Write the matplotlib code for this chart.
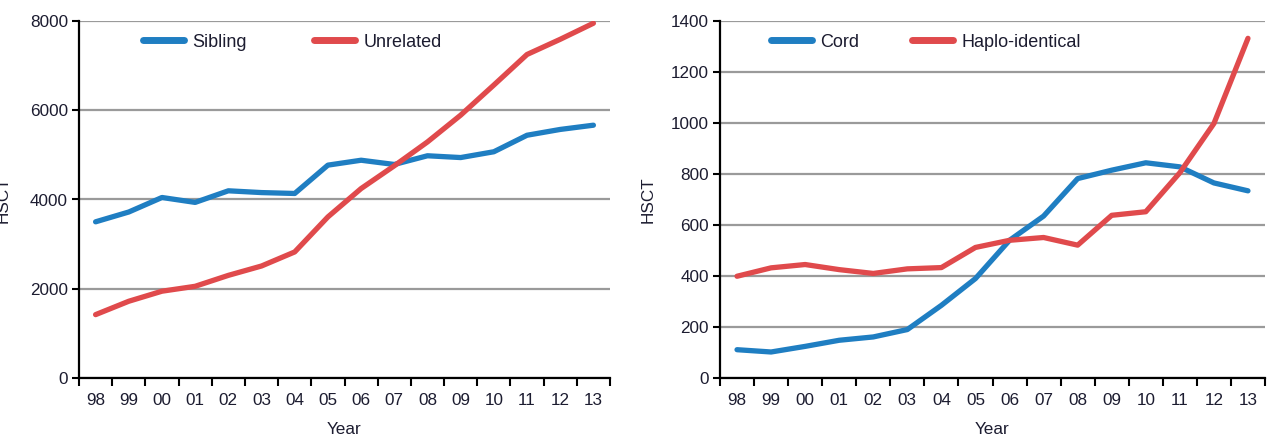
import matplotlib
matplotlib.use("Agg")
import matplotlib.pyplot as plt

years = ["98", "99", "00", "01", "02", "03", "04", "05", "06", "07", "08", "09", "10", "11", "12", "13"]

sibling = [3500, 3720, 4045, 3935, 4195, 4155, 4135, 4770, 4880, 4785, 4980, 4940, 5070, 5440, 5570, 5665]
unrelated = [1420, 1720, 1945, 2055, 2300, 2510, 2825, 3610, 4245, 4755, 5290, 5890, 6565, 7250, 7590, 7950]

cord = [111, 102, 124, 148, 161, 190, 285, 390, 540, 635, 782, 815, 844, 828, 765, 734]
haplo = [399, 432, 445, 425, 410, 428, 433, 512, 540, 551, 521, 638, 652, 805, 998, 1332]

left_ticks = [0, 2000, 4000, 6000, 8000]
right_ticks = [0, 200, 400, 600, 800, 1000, 1200, 1400]

BLUE = "#1f7ec2"
RED = "#e04a4c"
TXT = "#1c1c30"
GRID = "#9a9a9a"
FS = 12.3
LFS = 13

plt.rcParams["font.family"] = ["Liberation Sans", "DejaVu Sans"]

fig = plt.figure(figsize=(12.69, 4.40), dpi=100)
ax1 = fig.add_axes([79 / 1269, 62 / 440, 531 / 1269, 357 / 440])
ax2 = fig.add_axes([720 / 1269, 62 / 440, 545 / 1269, 357 / 440])


def style(ax, s1, s2, n1, n2, yticks, leg_x, colsp, ylpad):
    x = list(range(len(years)))
    ax.plot(x, s1, color=BLUE, lw=3.8, solid_capstyle="round", solid_joinstyle="round", label=n1, zorder=3)
    ax.plot(x, s2, color=RED, lw=3.8, solid_capstyle="round", solid_joinstyle="round", label=n2, zorder=3)
    ax.set_xlim(-0.5, len(years) - 0.5)
    ax.set_ylim(0, yticks[-1])
    ax.set_yticks(yticks)
    ax.set_yticklabels([str(t) for t in yticks], color=TXT, fontsize=FS)
    ax.set_xticks([i - 0.5 for i in range(len(years) + 1)])
    ax.set_xticklabels([])
    ax.set_xticks(x, minor=True)
    ax.set_xticklabels(years, minor=True, color=TXT, fontsize=FS)
    ax.tick_params(axis="x", which="major", direction="out", length=6, width=1.5, color="black")
    ax.tick_params(axis="x", which="minor", length=0, pad=11)
    ax.tick_params(axis="y", direction="out", length=5, width=1.5, color="black", pad=3)
    for sp in ["top", "right"]:
        ax.spines[sp].set_visible(False)
    for sp in ["left", "bottom"]:
        ax.spines[sp].set_linewidth(1.6)
        ax.spines[sp].set_color("black")
    ax.grid(axis="y", color=GRID, lw=1.6, zorder=1)
    ax.set_axisbelow(True)
    ax.set_xlabel("Year", color=TXT, fontsize=FS, labelpad=10)
    ax.set_ylabel("HSCT", color=TXT, fontsize=FS, labelpad=ylpad)
    leg = ax.legend(loc="center left", bbox_to_anchor=(leg_x, 0.941), ncol=2, frameon=False,
                    handlelength=2.3, handletextpad=0.45, columnspacing=colsp,
                    borderpad=0, borderaxespad=0, fontsize=LFS)
    for t in leg.get_texts():
        t.set_color(TXT)
    for h in leg.get_lines():
        h.set_linewidth(5)
        h.set_solid_capstyle("round")


style(ax1, sibling, unrelated, "Sibling", "Unrelated", left_ticks, 0.12, 3.7, 14)
style(ax2, cord, haplo, "Cord", "Haplo-identical", right_ticks, 0.093, 2.9, 11)

fig.savefig("out.png", dpi=100)
